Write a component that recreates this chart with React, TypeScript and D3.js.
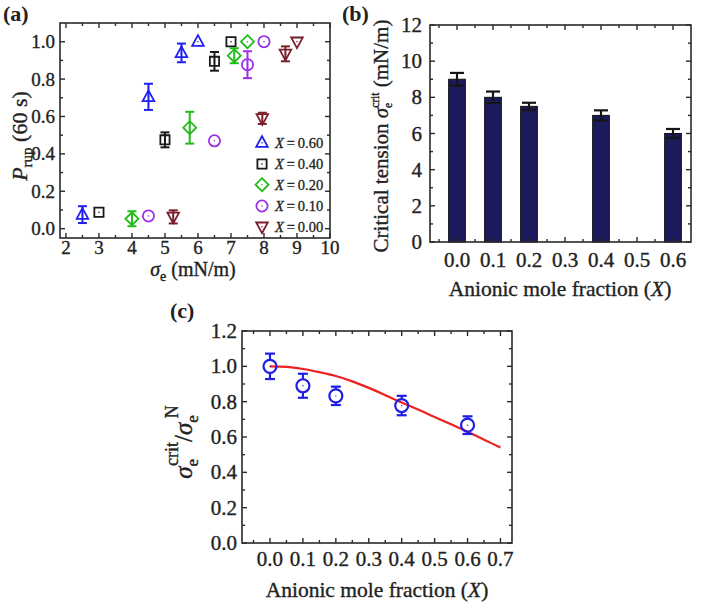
import React from "react";
import * as d3 from "d3";

const FONT = "'Liberation Serif', 'Times New Roman', serif";
const INK = "#222";
const THICK = { stroke: INK, strokeWidth: 0.35 };

// ---------- Panel (a) data ----------
const seriesLabels = ["X = 0.60", "X = 0.40", "X = 0.20", "X = 0.10", "X = 0.00"];
const seriesColors = ["#1f1fef", "#1a1a1a", "#22bb1a", "#9b30e8", "#7a1f2a"];
const seriesShapes = ["tri", "square", "diamond", "circle", "itri"];
const a60x = [2.5, 4.5, 5.5, 6.0];
const a60y = [0.075, 0.705, 0.94, 1.0];
const a60e = [0.045, 0.07, 0.05, 0];
const a40x = [3.0, 5.0, 6.5, 7.0];
const a40y = [0.088, 0.475, 0.895, 1.0];
const a40e = [0, 0.04, 0.05, 0];
const a20x = [4.0, 5.75, 7.1, 7.5];
const a20y = [0.053, 0.54, 0.925, 1.0];
const a20e = [0.04, 0.085, 0.04, 0];
const a10x = [4.5, 6.5, 7.5, 8.0];
const a10y = [0.068, 0.47, 0.877, 1.0];
const a10e = [0, 0, 0.072, 0];
const a00x = [5.25, 7.95, 8.65, 9.0];
const a00y = [0.063, 0.59, 0.935, 1.0];
const a00e = [0.035, 0.03, 0.04, 0];
const aXTicks = [2, 3, 4, 5, 6, 7, 8, 9, 10];
const aYTicks = [0.0, 0.2, 0.4, 0.6, 0.8, 1.0];

// ---------- Panel (b) data ----------
const bCats = [0.0, 0.1, 0.2, 0.4, 0.6];
const bVals = [9.0, 8.0, 7.5, 7.0, 6.0];
const bErr = [0.35, 0.32, 0.2, 0.28, 0.25];
const bXTicks = [0.0, 0.1, 0.2, 0.3, 0.4, 0.5, 0.6];
const bYTicks = [0, 2, 4, 6, 8, 10, 12];

// ---------- Panel (c) data ----------
const cX = [0.0, 0.1, 0.2, 0.4, 0.6];
const cY = [1.0, 0.89, 0.833, 0.778, 0.667];
const cErr = [0.072, 0.068, 0.052, 0.055, 0.05];
const curveX = [0.0, 0.05, 0.1, 0.15, 0.2, 0.25, 0.3, 0.35, 0.4, 0.45, 0.5, 0.55, 0.6, 0.65, 0.7];
const curveY = [1.0, 0.997, 0.985, 0.967, 0.945, 0.915, 0.878, 0.837, 0.795, 0.755, 0.713, 0.672, 0.63, 0.585, 0.54];
const cXTicks = [0.0, 0.1, 0.2, 0.3, 0.4, 0.5, 0.6, 0.7];
const cYTicks = [0.0, 0.2, 0.4, 0.6, 0.8, 1.0, 1.2];

const aSeries = [
  { x: a60x, y: a60y, e: a60e },
  { x: a40x, y: a40y, e: a40e },
  { x: a20x, y: a20y, e: a20e },
  { x: a10x, y: a10y, e: a10e },
  { x: a00x, y: a00y, e: a00e },
];

function markerPath(shape: string, cx: number, cy: number): string {
  switch (shape) {
    case "tri":
      return `M${cx},${cy - 6.5}L${cx + 5.8},${cy + 4.2}L${cx - 5.8},${cy + 4.2}Z`;
    case "itri":
      return `M${cx},${cy + 6.5}L${cx + 5.8},${cy - 4.2}L${cx - 5.8},${cy - 4.2}Z`;
    case "square":
      return `M${cx - 4.6},${cy - 4.6}h9.2v9.2h-9.2Z`;
    case "diamond":
      return `M${cx},${cy - 6.5}L${cx + 6.5},${cy}L${cx},${cy + 6.5}L${cx - 6.5},${cy}Z`;
    default:
      return `M${cx + 5.6},${cy}A5.6,5.6 0 1,1 ${cx - 5.6},${cy}A5.6,5.6 0 1,1 ${cx + 5.6},${cy}Z`;
  }
}

type Lin = d3.ScaleLinear<number, number>;

function Frame({ x, y, xMajor, xMinor, yMajor, yMinor, major = 5, minor = 3 }: {
  x: Lin; y: Lin; xMajor: number[]; xMinor: number[]; yMajor: number[]; yMinor: number[]; major?: number; minor?: number;
}) {
  const [x0, x1] = x.range();
  const [y0, y1] = y.range();
  const lines: JSX.Element[] = [];
  const addX = (v: number, L: number, k: string) => {
    const px = x(v);
    lines.push(<line key={"xb" + k} x1={px} x2={px} y1={y0} y2={y0 - L} />);
    lines.push(<line key={"xt" + k} x1={px} x2={px} y1={y1} y2={y1 + L} />);
  };
  const addY = (v: number, L: number, k: string) => {
    const py = y(v);
    lines.push(<line key={"yl" + k} x1={x0} x2={x0 + L} y1={py} y2={py} />);
    lines.push(<line key={"yr" + k} x1={x1} x2={x1 - L} y1={py} y2={py} />);
  };
  xMajor.forEach((v, i) => addX(v, major, "M" + i));
  xMinor.forEach((v, i) => addX(v, minor, "m" + i));
  yMajor.forEach((v, i) => addY(v, major, "M" + i));
  yMinor.forEach((v, i) => addY(v, minor, "m" + i));
  return (
    <g stroke="#2a2a2a" strokeWidth={1.4} fill="none">
      {lines}
      <rect x={x0} y={y1} width={x1 - x0} height={y0 - y1} strokeWidth={1.6} />
    </g>
  );
}

function PanelA() {
  const x = d3.scaleLinear().domain([1.82, 10]).range([60, 330]);
  const y = d3.scaleLinear().domain([-0.05, 1.1]).range([238, 23]);
  const xMinor = d3.range(2.5, 10, 1);
  const yMinor = [0.1, 0.3, 0.5, 0.7, 0.9];
  const legendY = [142.7, 164, 184.7, 206, 226.7];
  return (
    <g>
      <Frame x={x} y={y} xMajor={aXTicks} xMinor={xMinor} yMajor={aYTicks} yMinor={yMinor} />
      <g fontFamily={FONT} fontSize={19} fill={INK} {...THICK}>
        {aXTicks.map((t) => (
          <text key={t} x={x(t)} y={253.5} textAnchor="middle">{t}</text>
        ))}
        {aYTicks.map((t) => (
          <text key={t} x={55} y={y(t) + 6.5} textAnchor="end">{t.toFixed(1)}</text>
        ))}
      </g>
      {aSeries.map((s, si) => (
        <g key={si} stroke={seriesColors[si]} fill="none" strokeWidth={1.8}>
          {s.x.map((xv, i) => {
            const cx = x(xv);
            const cy = y(s.y[i]);
            const e = s.e[i];
            return (
              <g key={i}>
                {e > 0 && (
                  <g strokeWidth={2}>
                    <line x1={cx} x2={cx} y1={y(s.y[i] + e)} y2={y(s.y[i] - e)} />
                    <line x1={cx - 4.5} x2={cx + 4.5} y1={y(s.y[i] + e)} y2={y(s.y[i] + e)} />
                    <line x1={cx - 4.5} x2={cx + 4.5} y1={y(s.y[i] - e)} y2={y(s.y[i] - e)} />
                  </g>
                )}
                <path d={markerPath(seriesShapes[si], cx, cy)} fill="none" />
                <circle cx={cx} cy={cy} r={0.8} fill={seriesColors[si]} stroke="none" />
              </g>
            );
          })}
        </g>
      ))}
      {seriesLabels.map((lab, i) => (
        <g key={lab}>
          <path d={markerPath(seriesShapes[i], 262, legendY[i])} stroke={seriesColors[i]} strokeWidth={1.8} fill="none" />
          <circle cx={262} cy={legendY[i]} r={0.8} fill={seriesColors[i]} />
          <text x={275} y={legendY[i] + 5} fontFamily={FONT} fontSize={14.5} fill={INK} stroke={INK} strokeWidth={0.3}>
            <tspan fontStyle="italic">X</tspan>
            {"\u2009=\u2009" + lab.split("= ")[1]}
          </text>
        </g>
      ))}
      <text x={3} y={21} fontFamily={FONT} fontSize={22} fontWeight="bold" fill={INK}>(a)</text>
      <text transform="translate(27,136) rotate(-90)" textAnchor="middle" fontFamily={FONT} fontSize={22} fill={INK} {...THICK}>
        <tspan fontStyle="italic">P</tspan>
        <tspan fontSize={15} dy={5}>rup</tspan>
        <tspan dy={-5}>{" (60 s)"}</tspan>
      </text>
      <text x={193} y={276} textAnchor="middle" fontFamily={FONT} fontSize={20} fill={INK} {...THICK}>
        <tspan fontStyle="italic">σ</tspan>
        <tspan fontSize={14} dy={5}>e</tspan>
        <tspan dy={-5}>{" (mN/m)"}</tspan>
      </text>
    </g>
  );
}

function PanelB() {
  const x = d3.scaleLinear().domain([-0.075, 0.65]).range([430, 691]);
  const y = d3.scaleLinear().domain([0, 12]).range([242, 25]);
  const xMinor = d3.range(-0.05, 0.65, 0.1);
  const yMinor = [1, 3, 5, 7, 9, 11];
  const bw = 16.7;
  return (
    <g>
      {bCats.map((c, i) => (
        <rect key={c} x={x(c) - bw / 2} y={y(bVals[i])} width={bw} height={y(0) - y(bVals[i])} fill="#1b1a5c" stroke="#111" strokeWidth={1} />
      ))}
      <Frame x={x} y={y} xMajor={bXTicks} xMinor={xMinor} yMajor={bYTicks} yMinor={yMinor} />
      <g stroke="#151515" strokeWidth={2.2}>
        {bCats.map((c, i) => {
          const cx = x(c);
          const t = y(bVals[i] + bErr[i]);
          const b = y(bVals[i] - bErr[i]);
          return (
            <g key={c}>
              <line x1={cx} x2={cx} y1={t} y2={b} />
              <line x1={cx - 7} x2={cx + 7} y1={t} y2={t} />
              <line x1={cx - 7} x2={cx + 7} y1={b} y2={b} />
            </g>
          );
        })}
      </g>
      <g fontFamily={FONT} fontSize={21} fill={INK} {...THICK}>
        {bXTicks.map((t) => (
          <text key={t} x={x(t)} y={267} textAnchor="middle">{t.toFixed(1)}</text>
        ))}
        {bYTicks.map((t) => (
          <text key={t} x={422} y={y(t) + 7} textAnchor="end">{t}</text>
        ))}
      </g>
      <text x={560} y={296} textAnchor="middle" fontFamily={FONT} fontSize={21.5} fill={INK} {...THICK}>
        Anionic mole fraction (<tspan fontStyle="italic">X</tspan>)
      </text>
      <text transform="translate(388,136) rotate(-90)" textAnchor="middle" fontFamily={FONT} fontSize={21} fill={INK} {...THICK}>
        {"Critical tension "}
        <tspan fontStyle="italic">σ</tspan>
        <tspan fontSize={11.5} dy={4}>e</tspan>
        <tspan fontSize={11.5} dx={-5} dy={-13}>crit</tspan>
        <tspan dy={9}>{" (mN/m)"}</tspan>
      </text>
      <text x={342} y={21} fontFamily={FONT} fontSize={22} fontWeight="bold" fill={INK}>(b)</text>
    </g>
  );
}

function PanelC() {
  const x = d3.scaleLinear().domain([-0.085, 0.735]).range([242, 512]);
  const y = d3.scaleLinear().domain([0, 1.2]).range([543, 331]);
  const xMinor = d3.range(-0.05, 0.73, 0.1);
  const yMinor = [0.1, 0.3, 0.5, 0.7, 0.9, 1.1];
  const line = d3.line<number>().x((_, i) => x(curveX[i])).y((d) => y(d)).curve(d3.curveMonotoneX);
  return (
    <g>
      <Frame x={x} y={y} xMajor={cXTicks} xMinor={xMinor} yMajor={cYTicks} yMinor={yMinor} />
      <path d={line(curveY) || ""} fill="none" stroke="#ee2020" strokeWidth={2.2} />
      <g stroke="#1e1ee6" strokeWidth={2.2} fill="none">
        {cX.map((xv, i) => {
          const cx = x(xv);
          const cy = y(cY[i]);
          const t = y(cY[i] + cErr[i]);
          const b = y(cY[i] - cErr[i]);
          return (
            <g key={xv}>
              <line x1={cx} x2={cx} y1={t} y2={cy - 6.5} />
              <line x1={cx} x2={cx} y1={cy + 6.5} y2={b} />
              <line x1={cx - 5} x2={cx + 5} y1={t} y2={t} />
              <line x1={cx - 5} x2={cx + 5} y1={b} y2={b} />
              <circle cx={cx} cy={cy} r={6.5} />
              <circle cx={cx} cy={cy} r={0.7} fill="#1e1ee6" stroke="none" />
            </g>
          );
        })}
      </g>
      <g fontFamily={FONT} fontSize={21} fill={INK} {...THICK}>
        {cXTicks.map((t) => (
          <text key={t} x={x(t)} y={566} textAnchor="middle">{t.toFixed(1)}</text>
        ))}
        {cYTicks.map((t) => (
          <text key={t} x={237} y={y(t) + 7} textAnchor="end">{t.toFixed(1)}</text>
        ))}
      </g>
      <text x={377} y={597} textAnchor="middle" fontFamily={FONT} fontSize={21.5} fill={INK} {...THICK}>
        Anionic mole fraction (<tspan fontStyle="italic">X</tspan>)
      </text>
      <text transform="translate(192,442) rotate(-90)" textAnchor="middle" fontFamily={FONT} fontSize={25} fill={INK} {...THICK}>
        <tspan fontStyle="italic">σ</tspan>
        <tspan fontSize={17} dy={6}>e</tspan>
        <tspan fontSize={18} dx={-7} dy={-20}>crit</tspan>
        <tspan dy={14}>/</tspan>
        <tspan fontStyle="italic">σ</tspan>
        <tspan fontSize={17} dy={6}>e</tspan>
        <tspan fontSize={18} dx={-3} dy={-20}>N</tspan>
      </text>
      <text x={170} y={318} fontFamily={FONT} fontSize={22} fontWeight="bold" fill={INK}>(c)</text>
    </g>
  );
}

export default function App() {
  return (
    <svg width={708} height={603} style={{ display: "block", position: "absolute", left: 0, top: 0, background: "white" }}>
      <rect width={708} height={603} fill="white" />
      <PanelA />
      <PanelB />
      <PanelC />
    </svg>
  );
}
